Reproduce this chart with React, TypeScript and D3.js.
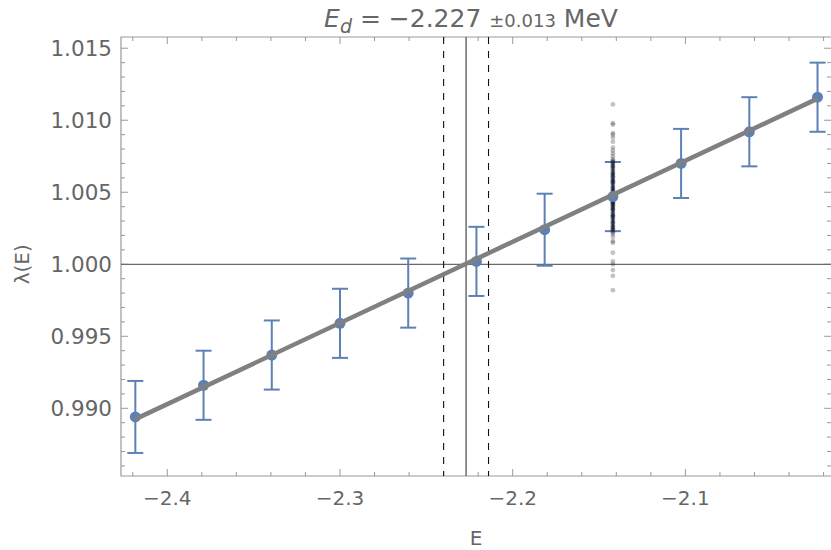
import React, { useEffect, useRef } from 'react';
import * as d3 from 'd3';

// measured points (E in MeV, eigenvalue lambda and its error)
const energies = [-2.4185, -2.379, -2.3395, -2.3, -2.2605, -2.221, -2.1815, -2.142, -2.1025, -2.063, -2.0235];
const lambdas = [0.9894, 0.9916, 0.9937, 0.9959, 0.998, 1.0002, 1.0024, 1.0047, 1.007, 1.0092, 1.0116];
const errors = [0.0025, 0.0024, 0.0024, 0.0024, 0.0024, 0.0024, 0.0025, 0.0024, 0.0024, 0.0024, 0.0024];

// bootstrap samples drawn at one energy
const sampleE = -2.142;
const samples = [
  1.0111, 1.0098, 1.0097, 1.0091, 1.009, 1.0088, 1.0085, 1.0081, 1.0079, 1.0077, 1.0075, 1.0073,
  1.0071, 1.007, 1.0069, 1.0067, 1.0066, 1.0064, 1.0063, 1.0062, 1.006, 1.0059, 1.0057, 1.0056,
  1.0055, 1.0053, 1.0052, 1.005, 1.0049, 1.0048, 1.0047, 1.0046, 1.0045, 1.0044, 1.0042, 1.0041,
  1.004, 1.0038, 1.0037, 1.0035, 1.0034, 1.0033, 1.0031, 1.003, 1.0028, 1.0027, 1.0025, 1.0023,
  1.0021, 1.0019, 1.0016, 1.0015, 1.0008, 1.0002, 1.0, 0.9996, 0.9992, 0.9982,
  1.0072, 1.0068, 1.0065, 1.0061, 1.0058, 1.0054, 1.0051, 1.0049, 1.0047, 1.0046, 1.0044, 1.0043,
  1.0041, 1.0039, 1.0036, 1.0032, 1.0029, 1.0026, 1.0024, 1.0022, 1.0068, 1.0063, 1.0058, 1.0053,
  1.0048, 1.0045, 1.0042, 1.0039, 1.0034, 1.0029, 1.0071, 1.0061, 1.0057, 1.0051, 1.0046, 1.0043,
  1.0038, 1.0033, 1.0026, 1.0024,
];

// linear fit end points
const fitE = [-2.4185, -2.0235];
const fitLambda = [0.98925, 1.0115];

// bound state energy
const Ed = -2.227;
const EdErr = 0.013;

const xMajor = [-2.4, -2.3, -2.2, -2.1];
const xMajorLabels = ['\u22122.4', '\u22122.3', '\u22122.2', '\u22122.1'];
const yMajor = [0.99, 0.995, 1.0, 1.005, 1.01, 1.015];
const yMajorLabels = ['0.990', '0.995', '1.000', '1.005', '1.010', '1.015'];

const App = () => {
  const svgRef = useRef<SVGSVGElement>(null);

  useEffect(() => {
    const W = 831;
    const H = 550;
    const left = 121, right = 831.5, top = 37, bottom = 476;
    const frameColor = '#999999';
    const textColor = '#666666';
    const blue = '#5E81B5';
    const font = '"DejaVu Sans", sans-serif';

    const svg = d3.select(svgRef.current);
    svg.selectAll('*').remove();
    svg.attr('width', W).attr('height', H);

    const x = d3.scaleLinear().domain([-2.4268, -2.0157]).range([left, 831]);
    const y = d3.scaleLinear().domain([0.9853, 1.01578]).range([bottom, top]);

    // minor ticks
    const xMinor = d3.range(-2.42, -2.019, 0.02).filter(v => !xMajor.some(m => Math.abs(m - v) < 1e-6));
    const yMinor = d3.range(0.986, 1.0155, 0.001).filter(v => !yMajor.some(m => Math.abs(m - v) < 1e-6));

    const g = svg.append('g');

    // frame
    g.append('path')
      .attr('d', `M${right},${top}H${left}V${bottom}H${right}`)
      .attr('fill', 'none')
      .attr('stroke', frameColor)
      .attr('stroke-width', 1.2);

    const tickG = g.append('g').attr('stroke', frameColor).attr('stroke-width', 1);
    const addXTicks = (vals: number[], len: number) => {
      tickG.selectAll(null).data(vals).join('line')
        .attr('x1', d => x(d)).attr('x2', d => x(d))
        .attr('y1', bottom).attr('y2', bottom - len);
      tickG.selectAll(null).data(vals).join('line')
        .attr('x1', d => x(d)).attr('x2', d => x(d))
        .attr('y1', top).attr('y2', top + len);
    };
    const addYTicks = (vals: number[], len: number) => {
      tickG.selectAll(null).data(vals).join('line')
        .attr('x1', left).attr('x2', left + len)
        .attr('y1', d => y(d)).attr('y2', d => y(d));
      tickG.selectAll(null).data(vals).join('line')
        .attr('x1', 831 - len).attr('x2', 831)
        .attr('y1', d => y(d)).attr('y2', d => y(d));
    };
    addXTicks(xMajor, 7);
    addXTicks(xMinor, 4);
    addYTicks(yMajor, 7);
    addYTicks(yMinor, 4);

    // tick labels
    g.append('g').selectAll('text').data(xMajor).join('text')
      .attr('x', d => x(d))
      .attr('y', 505)
      .attr('text-anchor', 'middle')
      .attr('fill', textColor)
      .style('font-family', font)
      .style('font-size', '20px')
      .text((d, i) => xMajorLabels[i]);

    g.append('g').selectAll('text').data(yMajor).join('text')
      .attr('x', 112)
      .attr('y', d => y(d) + 7.5)
      .attr('text-anchor', 'end')
      .attr('fill', textColor)
      .style('font-family', font)
      .style('font-size', '21.5px')
      .text((d, i) => yMajorLabels[i]);

    // axis labels
    g.append('text')
      .attr('x', 476).attr('y', 545)
      .attr('text-anchor', 'middle')
      .attr('fill', textColor)
      .style('font-family', font)
      .style('font-size', '20px')
      .text('E');

    g.append('text')
      .attr('transform', `translate(29,${y(1)}) rotate(-90)`)
      .attr('text-anchor', 'middle')
      .attr('fill', textColor)
      .style('font-family', font)
      .style('font-size', '20px')
      .text('\u03bb(E)');

    // title
    const title = g.append('text')
      .attr('x', 471).attr('y', 27)
      .attr('text-anchor', 'middle')
      .attr('fill', textColor)
      .style('font-family', font)
      .style('font-size', '25px');
    title.append('tspan').style('font-style', 'italic').text('E');
    title.append('tspan').style('font-style', 'italic').style('font-size', '19px').attr('dy', 6).text('d');
    title.append('tspan').attr('dy', -6).text(` = \u2212${Math.abs(Ed).toFixed(3)} `);
    title.append('tspan').style('font-size', '18px').text(`\u00b1${EdErr.toFixed(3)}`);
    title.append('tspan').text(' MeV');

    // reference lines
    g.append('line')
      .attr('x1', left).attr('x2', 831)
      .attr('y1', y(1)).attr('y2', y(1))
      .attr('stroke', '#6a6a6a').attr('stroke-width', 1.3);

    g.append('line')
      .attr('x1', x(Ed)).attr('x2', x(Ed))
      .attr('y1', top).attr('y2', bottom)
      .attr('stroke', '#555555').attr('stroke-width', 1.3);

    g.selectAll(null).data([Ed - EdErr, Ed + EdErr]).join('line')
      .attr('x1', d => x(d)).attr('x2', d => x(d))
      .attr('y1', top).attr('y2', bottom)
      .attr('stroke', '#111111').attr('stroke-width', 1.1)
      .attr('stroke-dasharray', '7,7');

    // error bars
    const points = energies.map((e, i) => ({ e, l: lambdas[i], err: errors[i] }));
    const eb = g.append('g').attr('stroke', blue).attr('stroke-width', 2);
    eb.selectAll('.bar').data(points).join('line')
      .attr('class', 'bar')
      .attr('x1', d => x(d.e)).attr('x2', d => x(d.e))
      .attr('y1', d => y(d.l - d.err)).attr('y2', d => y(d.l + d.err));
    eb.selectAll('.capT').data(points).join('line')
      .attr('class', 'capT')
      .attr('x1', d => x(d.e) - 8).attr('x2', d => x(d.e) + 8)
      .attr('y1', d => y(d.l + d.err)).attr('y2', d => y(d.l + d.err));
    eb.selectAll('.capB').data(points).join('line')
      .attr('class', 'capB')
      .attr('x1', d => x(d.e) - 8).attr('x2', d => x(d.e) + 8)
      .attr('y1', d => y(d.l - d.err)).attr('y2', d => y(d.l - d.err));

    // samples, drawn over the error bar
    g.append('g').selectAll('circle').data(samples).join('circle')
      .attr('cx', x(sampleE))
      .attr('cy', d => y(d))
      .attr('r', 2.4)
      .attr('fill', '#0a0a1a')
      .attr('fill-opacity', 0.25);

    g.append('g').selectAll('circle').data(points).join('circle')
      .attr('cx', d => x(d.e))
      .attr('cy', d => y(d.l))
      .attr('r', 5.5)
      .attr('fill', blue);

    // fit line
    const line = d3.line<number>()
      .x((d, i) => x(fitE[i]))
      .y(d => y(d));
    g.append('path')
      .datum(fitLambda)
      .attr('d', line)
      .attr('fill', 'none')
      .attr('stroke', '#808080')
      .attr('stroke-width', 4.5);
  }, []);

  return <svg ref={svgRef} style={{ position: 'absolute', left: 0, top: 0 }}></svg>;
};

export default App;
